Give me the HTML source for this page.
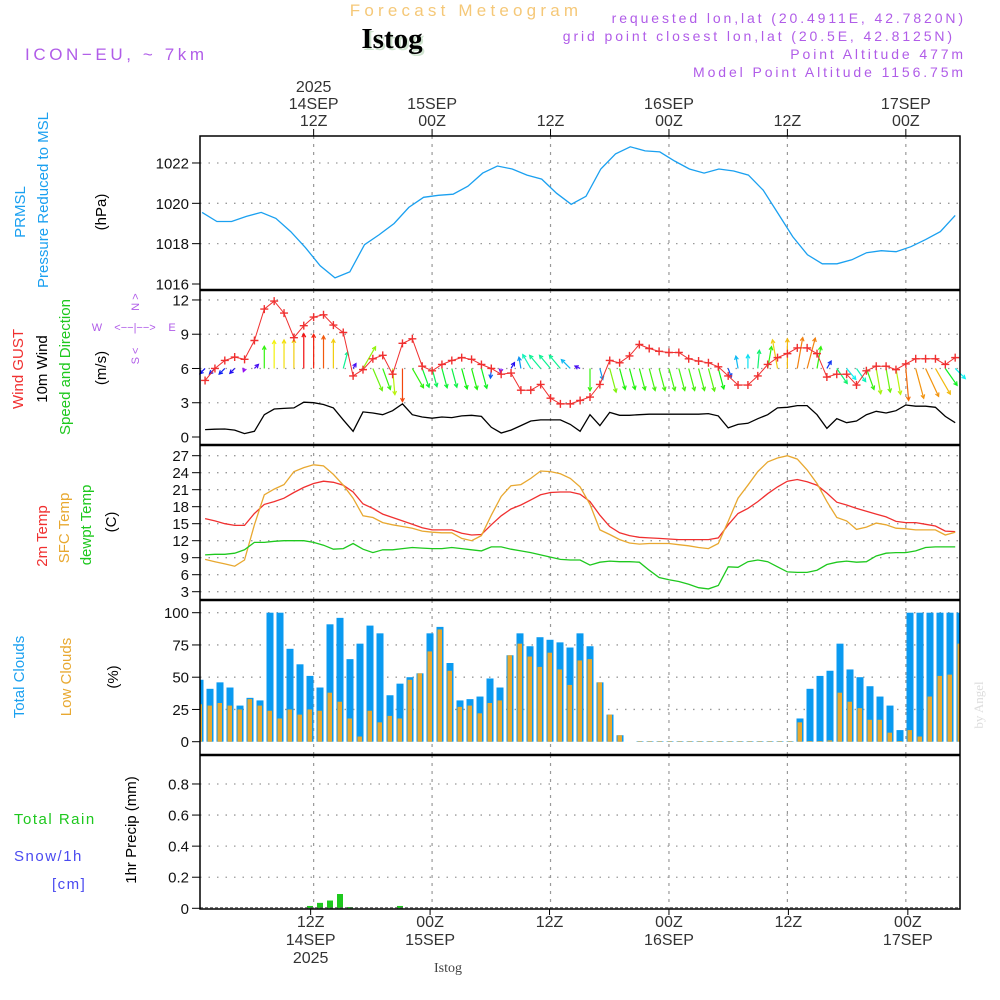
<!DOCTYPE html>
<html><head><meta charset="utf-8"><style>
html,body{margin:0;padding:0;background:#fff;}
svg{display:block;font-family:"Liberation Sans",sans-serif;}
</style></head><body>
<svg id="chart" width="1000" height="1000" viewBox="0 0 1000 1000" xmlns="http://www.w3.org/2000/svg">
<g id="header">
<text x="466" y="16" text-anchor="middle" font-size="17" fill="#f5c878" letter-spacing="4.2">Forecast Meteogram</text>
<text x="394" y="50" text-anchor="middle" font-size="29" font-weight="bold" font-family="Liberation Serif,serif" fill="#cfe3cf">Istog</text>
<text x="392" y="48" text-anchor="middle" font-size="29" font-weight="bold" font-family="Liberation Serif,serif" fill="#000">Istog</text>
<text x="25" y="60" font-size="17" fill="#b05ce8" letter-spacing="3.6">ICON−EU, ~ 7km</text>
<g font-size="14" fill="#b05ce8" text-anchor="end" letter-spacing="2.9">
<text x="966" y="23">requested lon,lat (20.4911E, 42.7820N)</text>
<text x="955" y="41">grid point closest lon,lat (20.5E, 42.8125N)</text>
<text x="966" y="59">Point Altitude 477m</text>
<text x="966" y="77">Model Point Altitude 1156.75m</text>
</g>
</g>
<g id="grid"></g>
<g id="marks"></g>
<g id="axes"></g>
<g id="labels" font-size="15">
<g fill="#1aa0f0">
<text transform="translate(25,212) rotate(-90)" text-anchor="middle">PRMSL</text>
<text transform="translate(48,200) rotate(-90)" text-anchor="middle">Pressure Reduced to MSL</text>
</g>
<text transform="translate(106,212) rotate(-90)" text-anchor="middle" fill="#000">(hPa)</text>
<text transform="translate(23,369) rotate(-90)" text-anchor="middle" fill="#f03030">Wind GUST</text>
<text transform="translate(47,369) rotate(-90)" text-anchor="middle" fill="#000">10m Wind</text>
<text transform="translate(70,367) rotate(-90)" text-anchor="middle" fill="#1ec81e">Speed and Direction</text>
<text transform="translate(106,368) rotate(-90)" text-anchor="middle" fill="#000">(m/s)</text>
<g fill="#b05ce8" font-size="11">
<text x="97" y="331" text-anchor="middle">W</text>
<text x="135" y="331" text-anchor="middle">&lt;−−|−−&gt;</text>
<text x="172" y="331" text-anchor="middle">E</text>
<text transform="translate(139,302) rotate(-90)" text-anchor="middle">N &gt;</text>
<text transform="translate(139,356) rotate(-90)" text-anchor="middle">S &lt;</text>
</g>
<text transform="translate(47,536) rotate(-90)" text-anchor="middle" fill="#f03030">2m Temp</text>
<text transform="translate(69,528) rotate(-90)" text-anchor="middle" fill="#e8a830">SFC Temp</text>
<text transform="translate(91,525) rotate(-90)" text-anchor="middle" fill="#1ec81e">dewpt Temp</text>
<text transform="translate(116,522) rotate(-90)" text-anchor="middle" fill="#000">(C)</text>
<text transform="translate(24,677) rotate(-90)" text-anchor="middle" fill="#1aa0f0">Total Clouds</text>
<text transform="translate(71,677) rotate(-90)" text-anchor="middle" fill="#e8a830">Low Clouds</text>
<text transform="translate(118,677) rotate(-90)" text-anchor="middle" fill="#000">(%)</text>
<text x="14" y="824" fill="#1ec81e" letter-spacing="1.5">Total   Rain</text>
<text x="14" y="861" fill="#4a4af0" letter-spacing="1.5">Snow/1h</text>
<text x="52" y="889" fill="#4a4af0" letter-spacing="1.5">[cm]</text>
<text transform="translate(136,830) rotate(-90)" text-anchor="middle" fill="#000">1hr Precip (mm)</text>
<text transform="translate(983,705) rotate(-90)" text-anchor="middle" fill="#ddd" font-size="13" font-family="Liberation Serif,serif">by Angel</text>
<text x="448" y="972" text-anchor="middle" fill="#444" font-size="14" font-family="Liberation Serif,serif">Istog</text>
</g>
</svg>
<script>
// ---------- data ----------
const pressure = [1019.55,1019.1,1019.1,1019.35,1019.55,1019.25,1018.6,1017.8,1016.9,1016.3,1016.6,1017.95,1018.45,1019.0,1019.8,1020.3,1020.4,1020.45,1020.85,1021.5,1021.85,1021.7,1021.4,1021.2,1020.5,1019.95,1020.35,1021.7,1022.45,1022.8,1022.6,1022.55,1022.1,1021.7,1021.5,1021.7,1021.6,1021.4,1020.65,1019.5,1018.35,1017.45,1017.0,1017.0,1017.2,1017.55,1017.65,1017.6,1017.85,1018.2,1018.6,1019.4];
const pressureStartHour = 0.7;
const pressureStepHours = 1.496;
const wind10m = [0.65,0.68,0.7,0.6,0.3,0.5,1.95,2.45,2.5,2.55,3.05,3.0,2.85,2.55,1.5,0.5,2.2,2.1,1.95,2.3,2.9,1.95,1.75,1.65,1.75,1.7,1.85,1.9,1.8,0.85,0.35,0.6,1.0,1.4,1.5,1.5,1.5,1.1,0.5,1.95,1.0,2.15,1.9,1.9,1.95,2.0,2.0,2.0,2.0,2.0,2.0,2.05,1.85,0.8,1.1,1.2,1.6,1.95,2.55,2.6,2.75,2.75,1.95,0.75,1.6,1.25,1.4,1.95,2.25,2.1,2.3,2.8,2.7,2.7,2.6,1.8,1.25];
const windDir = [225,225,225,225,200,45,0,0,0,0,0,0,0,0,15,30,30,157,160,175,180,150,160,165,165,165,165,165,165,185,190,30,350,330,320,320,320,315,295,180,165,165,165,165,165,165,165,165,165,165,165,165,165,160,350,0,5,10,350,0,10,15,10,30,145,140,145,160,170,170,170,175,165,155,150,145,135];
const windGust = [4.95,6.0,6.7,7.0,6.8,8.45,11.2,11.9,10.85,8.7,9.75,10.5,10.7,9.8,9.15,5.35,5.9,6.85,7.15,5.5,8.2,8.6,6.2,5.8,6.35,6.7,6.95,6.8,6.35,6.0,5.5,5.6,4.1,4.1,4.6,3.4,2.9,2.9,3.2,3.5,4.6,6.7,6.5,7.1,8.1,7.75,7.5,7.4,7.4,6.85,6.65,6.5,6.15,5.35,4.55,4.55,5.35,6.35,6.95,7.3,7.8,7.8,7.3,5.25,5.5,5.5,4.55,5.8,6.2,6.2,5.9,6.4,6.85,6.85,6.85,6.35,6.95];
const temp2m = [15.9,15.5,15.0,14.7,14.7,16.8,18.4,18.9,19.5,20.5,21.4,22.1,22.5,22.3,21.8,20.6,18.5,17.7,16.7,16.1,15.5,14.9,14.3,13.9,13.9,13.9,13.3,13.0,13.1,14.8,16.4,17.6,18.3,19.2,20.1,20.5,20.6,20.6,20.2,18.9,16.5,14.5,13.4,12.9,12.6,12.5,12.4,12.3,12.2,12.2,12.2,12.2,12.5,14.8,16.8,17.7,18.9,20.3,21.5,22.5,22.8,22.4,21.8,20.4,18.8,18.3,17.7,17.2,16.7,16.2,15.4,15.2,15.2,14.9,14.6,13.7,13.6];
const tempSfc = [8.7,8.3,7.9,7.5,8.6,14.8,20.1,21.1,21.9,24.2,24.9,25.4,25.2,23.7,21.8,19.5,16.4,16.1,15.2,14.8,14.5,14.2,13.7,13.5,13.4,13.4,12.4,12.0,12.9,16.5,19.8,21.7,21.9,23.0,24.3,24.2,23.8,23.0,21.5,18.4,13.9,13.1,12.2,11.6,11.4,11.5,11.5,11.5,11.3,11.1,10.8,10.6,11.5,15.4,19.5,21.8,24.2,25.9,26.6,27.0,26.4,24.5,22.1,18.9,16.1,15.5,14.0,14.4,15.1,14.8,14.2,14.1,13.9,13.9,13.9,13.0,13.5];
const dewpoint = [9.5,9.6,9.6,9.8,10.4,11.7,11.7,11.9,12.0,12.0,12.0,11.7,11.2,10.5,10.6,11.5,10.5,9.9,10.4,10.4,10.6,10.8,10.7,10.6,10.6,10.8,10.6,10.4,10.2,10.9,10.9,10.5,10.2,9.9,9.5,9.1,8.7,8.6,8.6,7.7,8.2,8.4,8.3,8.3,8.2,6.8,5.5,5.1,4.8,4.3,3.7,3.5,4.1,7.4,7.3,8.3,8.6,8.3,7.4,6.5,6.4,6.4,6.8,7.8,8.2,8.4,8.2,8.3,9.3,9.8,9.9,9.9,10.2,10.8,10.9,10.9,10.9];
const totalClouds = [48,41,46,42,28,34,32,100,100,72,60,51,42,91,96,64,76,90,84,36,45,50,53,84,89,61,32,33,35,49,42,67,84,74,81,79,77,73,84,74,46,21,5,0,0.4,0.4,0.4,0.4,0.4,0.4,0.4,0.4,0.4,0.4,0.4,0.4,0.4,0.4,0.4,0.4,18,41,51,55,76,56,50,43,35,28,9,100,100,100,100,100,100];
const lowClouds = [29,28,30,28,25,33,28,24,18,25,21,25,24,38,31,18,4,24,15,20,18,48,53,70,87,55,27,28,22,30,32,67,76,66,58,69,56,44,63,64,46,21,5,0,0.4,0.4,0.4,0.4,0.4,0.4,0.4,0.4,0.4,0.4,0.4,0.4,0.4,0.4,0.4,0.4,15,0.5,0.5,1,38,31,26,17,17,7,0.5,9,4,35,51,52,76];
const precipHours = [11,12,13,14,15,20];
const precipValues = [0.015,0.035,0.05,0.092,0.008,0.015];
const pressureTicks = [1016,1018,1020,1022];
const windTicks = [0,3,6,9,12];
const tempTicks = [3,6,9,12,15,18,21,24,27];
const cloudTicks = [0,25,50,75,100];
const precipTicks = [0,0.2,0.4,0.6,0.8];
const timeTickHours = [12,24,36,48,60,72];
const topTimeLabels = [["2025","14SEP","12Z"],["15SEP","00Z"],["12Z"],["16SEP","00Z"],["12Z"],["17SEP","00Z"]];
const bottomTimeLabels = [["12Z","14SEP","2025"],["00Z","15SEP"],["12Z"],["00Z","16SEP"],["12Z"],["00Z","17SEP"]];

// ---------- axes ----------
const L=200,R=960;
const xH = h => 195.2 + h*9.87;
const xBar = k => 200 + k*10.0;
const yP = v => 284 - (v-1016)*20.17;
const yW = v => 437 - v*11.42;
const yT = v => 591.7 - (v-3)*5.667;
const yC = v => 741.7 - v*1.29;
const yR = v => 908.3 - v*155.4;
const panels = [{t:136,b:290,ticks:pressureTicks,f:yP,n:'pressure',fmt:v=>v},
  {t:290,b:445,ticks:windTicks,f:yW,n:'wind',fmt:v=>v},
  {t:445,b:600,ticks:tempTicks,f:yT,n:'temp',fmt:v=>v},
  {t:600,b:755,ticks:cloudTicks,f:yC,n:'clouds',fmt:v=>v},
  {t:755,b:909,ticks:precipTicks,f:yR,n:'precip',fmt:v=>v===0?'0':v.toFixed(1)}];
const NS='http://www.w3.org/2000/svg';
function mk(tag,attrs,parent){const e=document.createElementNS(NS,tag);for(const k in attrs)e.setAttribute(k,attrs[k]);parent.appendChild(e);return e;}
const grid=document.getElementById('grid'),marks=document.getElementById('marks'),axes=document.getElementById('axes');

panels.forEach(p=>{
  p.ticks.forEach(v=>{
    const y=p.f(v);
    if(v!==0 && !(p.n==='pressure'&&v===1016)){
      const g=mk('line',{x1:L,x2:R,y1:y,y2:y,stroke:'#999','stroke-width':1.3,'stroke-dasharray':'1.5,7'},grid);
      
      
    }
    const t=mk('line',{x1:192,x2:L,y1:y,y2:y,stroke:'#000','stroke-width':1},axes);
    
    
    const lb=mk('text',{x:189,y:y+5.5,'text-anchor':'end','font-size':15,fill:'#111'},axes);
    lb.textContent=p.fmt(v);
    
    
  });
  timeTickHours.forEach(h=>{
    const x=xH(h);
    const g=mk('line',{x1:x,x2:x,y1:p.t,y2:p.b,stroke:'#999','stroke-width':1.2,'stroke-dasharray':'3,5'},grid);
    
    
  });
});
const frame=mk('rect',{x:L,y:136,width:R-L,height:773,fill:'none',stroke:'#000','stroke-width':1.5},axes);


[290,445,600,755].forEach(y=>{const s=mk('line',{x1:L,x2:R,y1:y,y2:y,stroke:'#000','stroke-width':2.5},axes);
 
 });
timeTickHours.forEach((h,i)=>{
  const x=xH(h);
  mk('line',{x1:x,x2:x,y1:129,y2:136,stroke:'#000'},axes);
  const tl=topTimeLabels[i];
  tl.forEach((s,j)=>{const t=mk('text',{x:x,y:126-(tl.length-1-j)*17,'text-anchor':'middle','font-size':16,fill:'#333'},axes);t.textContent=s;
    
    });
  const bx=x-3+i*1;
  mk('line',{x1:bx,x2:bx,y1:909,y2:915,stroke:'#000'},axes);
  bottomTimeLabels[i].forEach((s,j)=>{const t=mk('text',{x:bx,y:927+j*18,'text-anchor':'middle','font-size':16,fill:'#333'},axes);t.textContent=s;
    
    });
});

// ---------- series ----------
function line(vals,xf,yf,color,name,w){
  const d=vals.map((v,i)=>(i?'L':'M')+xf(i).toFixed(1)+','+yf(v).toFixed(1)).join('');
  const p=mk('path',{d:d,fill:'none',stroke:color,'stroke-width':w||1.3},marks);
  
  
}
line(pressure,i=>xH(pressureStartHour+i*pressureStepHours),yP,'#1aa0f0','pressure-line');
const hue=s=>Math.max(0,Math.min(275,275-(s-0.3)*100));
wind10m.forEach((s,i)=>{
  const x0=xH(i+1),y0=yW(6),a=windDir[i]*Math.PI/180;
  const x1=x0+Math.sin(a)*s*11.42,y1=y0-Math.cos(a)*s*11.42;
  const c='hsl('+hue(s)+',90%,50%)';
  const g=mk('g',{stroke:c,'stroke-width':1.2,fill:'none'},marks);
  
  
  mk('line',{x1:x0,y1:y0,x2:x1,y2:y1},g);
  const h=4,b=Math.atan2(y1-y0,x1-x0);
  mk('path',{d:`M${x1-h*Math.cos(b-0.5)},${y1-h*Math.sin(b-0.5)}L${x1},${y1}L${x1-h*Math.cos(b+0.5)},${y1-h*Math.sin(b+0.5)}`},g);
});
line(wind10m,i=>xH(i+1),yW,'#000','wind-10m-line');
line(windGust,i=>xH(i+1),yW,'#f03030','wind-gust-line',1);
windGust.forEach((v,i)=>{const x=xH(i+1),y=yW(v);
  const m=mk('path',{d:`M${x-4},${y}H${x+4}M${x},${y-4}V${y+4}`,stroke:'#f03030','stroke-width':1.4},marks);
  
  });
line(temp2m,i=>xH(i+1),yT,'#f03030','temp-2m-line');
line(tempSfc,i=>xH(i+1),yT,'#e8a830','sfc-temp-line');
line(dewpoint,i=>xH(i+1),yT,'#1ec81e','dewpoint-line');
totalClouds.forEach((v,k)=>{
  const x=xBar(k),y=yC(v);
  const x0=Math.max(L,x-3.5),x1=Math.min(R,x+3.5);
  const b=mk('rect',{x:x0,y:y,width:x1-x0,height:yC(0)-y,fill:'#0a9af0'},marks);
  
  
});
lowClouds.forEach((v,k)=>{
  const x=xBar(k),y=yC(v);
  const x0=Math.max(L,x-2.5),x1=Math.min(R,x+2);
  const b=mk('rect',{x:x0,y:y,width:x1-x0,height:yC(0)-y,fill:'#e8a830'},marks);
  
  
});
precipValues.forEach((v,j)=>{
  const x=xBar(precipHours[j]),y=yR(v);
  const b=mk('rect',{x:x-3,y:y,width:6,height:yR(0)-y,fill:'#1ec81e'},marks);
  
  
});
const base=mk('line',{x1:L,x2:R,y1:yR(0)-0.5,y2:yR(0)-0.5,stroke:'#555','stroke-dasharray':'3,2'},marks);


</script>
</body></html>
